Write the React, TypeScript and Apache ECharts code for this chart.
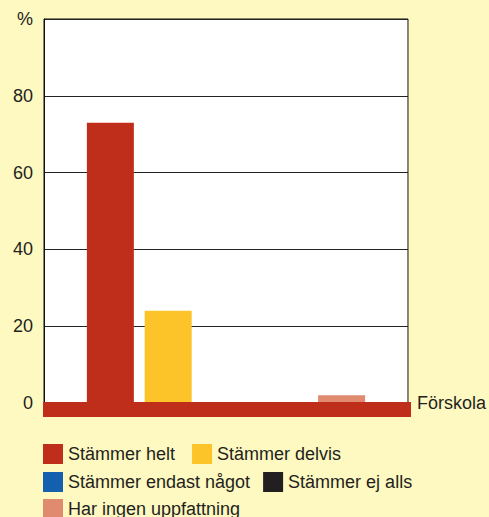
import React, { useEffect, useRef } from "react";
import * as echarts from "echarts";

const categories = ["Förskola"];
const seriesNames = [
  "Stämmer helt",
  "Stämmer delvis",
  "Stämmer endast något",
  "Stämmer ej alls",
  "Har ingen uppfattning",
];
const seriesValues = [73, 24, 0, 0, 2];
const seriesColors = ["#BF2D1B", "#FDC42A", "#1560AE", "#231F20", "#E08B70"];
const yTicks = [0, 20, 40, 60, 80, 100];

const FONT = "'Liberation Sans', Arial, sans-serif";
const TEXT = "#231F20";

export default function App() {
  const ref = useRef<HTMLDivElement>(null);
  useEffect(() => {
    if (!ref.current) return;
    const chart = echarts.init(ref.current, undefined, { renderer: "svg" });
    const legendBase = {
      itemWidth: 20,
      itemHeight: 20,
      icon: "rect",
      padding: 0,
      selectedMode: false,
      textStyle: { fontSize: 18, color: TEXT, fontFamily: FONT },
      orient: "horizontal" as const,
    };
    chart.setOption({
      animation: false,
      backgroundColor: "#FEF9C1",
      textStyle: { fontFamily: FONT },
      grid: {
        left: 44,
        top: 19,
        width: 365,
        height: 384,
        show: true,
        backgroundColor: "#FFFFFF",
        borderColor: "#111111",
        borderWidth: 1,
      },
      graphic: [
        {
          type: "rect",
          z: 100,
          shape: { x: 43, y: 402, width: 368, height: 15 },
          style: { fill: "#BF2D1B" },
        },
      ],
      legend: [
        { ...legendBase, left: 43, top: 444, itemGap: 17, data: seriesNames.slice(0, 2) },
        { ...legendBase, left: 43, top: 472, itemGap: 13, data: seriesNames.slice(2, 4) },
        { ...legendBase, left: 43, top: 499, itemGap: 13, data: seriesNames.slice(4, 5) },
      ],
      xAxis: {
        type: "category",
        data: categories,
        axisLine: { show: false },
        axisTick: { show: false },
        axisLabel: { show: false },
        name: categories[0],
        nameLocation: "end",
        nameGap: 9,
        nameTextStyle: {
          fontSize: 18,
          color: TEXT,
          fontFamily: FONT,
          verticalAlign: "middle",
          padding: [10, 0, 0, 0],
        },
      },
      yAxis: {
        type: "value",
        min: yTicks[0],
        max: yTicks[yTicks.length - 1],
        interval: 20,
        name: "%",
        nameLocation: "end",
        nameGap: 0,
        nameTextStyle: {
          fontSize: 18,
          color: TEXT,
          fontFamily: FONT,
          align: "right",
          verticalAlign: "middle",
          padding: [0, 11, 0, 0],
        },
        axisLine: { show: true, lineStyle: { color: "#111111", width: 1 } },
        axisTick: { show: false },
        axisLabel: {
          fontSize: 18,
          color: TEXT,
          fontFamily: FONT,
          margin: 11,
          formatter: (v: number) => (v === 100 ? "" : String(v)),
        },
        splitLine: { show: true, lineStyle: { color: "#222222", width: 1 } },
      },
      series: seriesNames.map((name, i) => ({
        name,
        type: "bar",
        data: [seriesValues[i]],
        barWidth: 47,
        barGap: "23%",
        itemStyle: { color: seriesColors[i] },
      })),
    });
    return () => chart.dispose();
  }, []);
  return (
    <div
      ref={ref}
      style={{ position: "fixed", left: 0, top: 0, width: 489, height: 517 }}
    />
  );
}
